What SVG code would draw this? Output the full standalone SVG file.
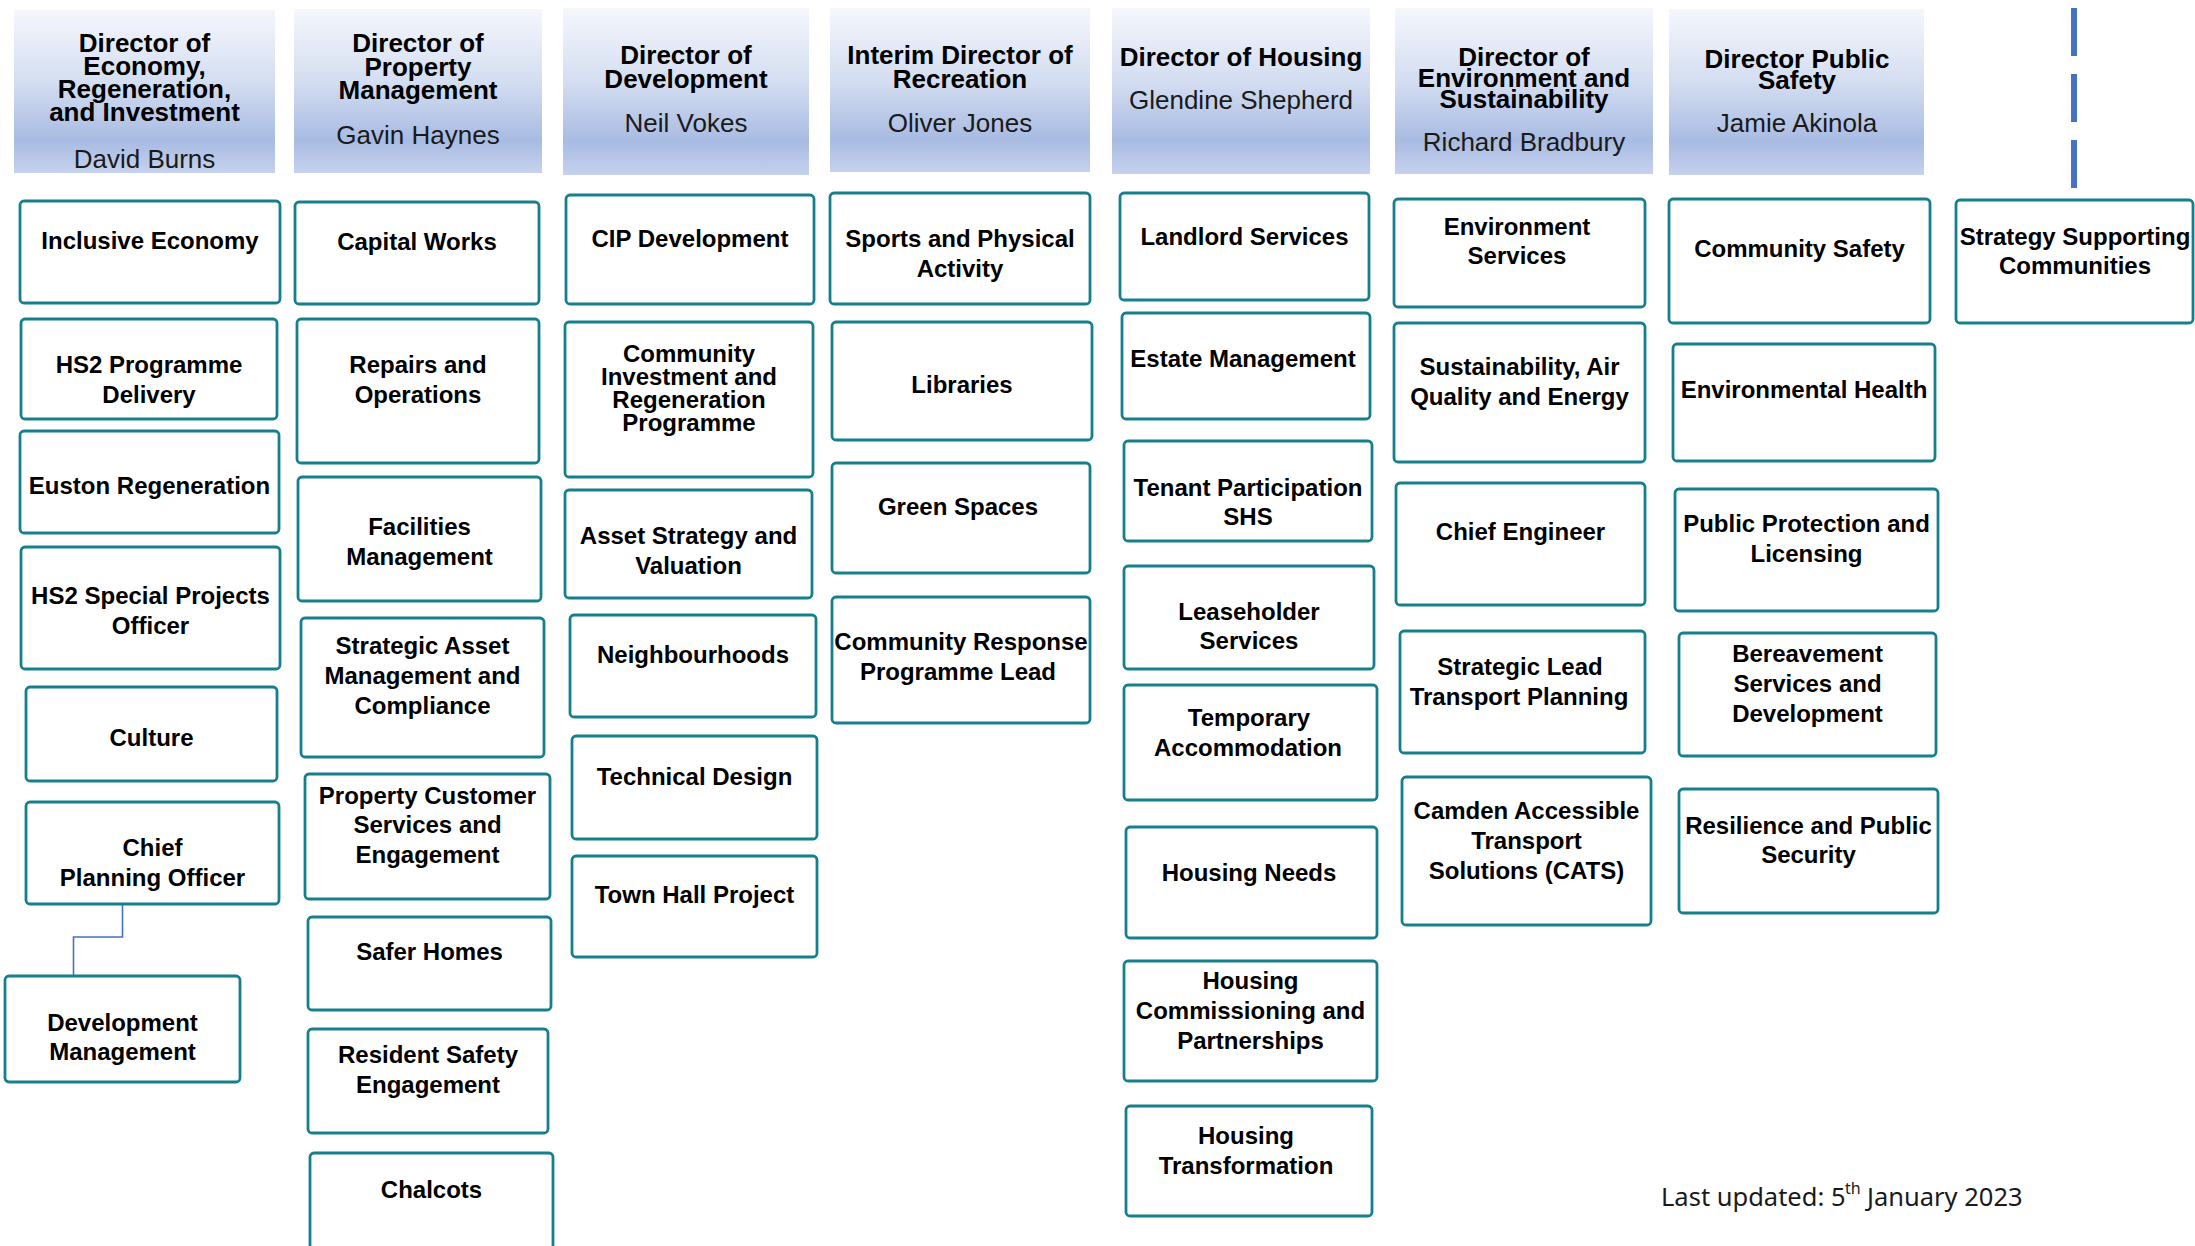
<svg xmlns="http://www.w3.org/2000/svg" width="2195" height="1246" viewBox="0 0 2195 1246">
<defs>
<linearGradient id="hg" x1="0" y1="0" x2="0" y2="1">
<stop offset="0" stop-color="#f5f7fc"/>
<stop offset="0.45" stop-color="#d3ddf1"/>
<stop offset="0.8" stop-color="#a8bbe2"/>
<stop offset="1" stop-color="#c6d2ee"/>
</linearGradient>
<style>
.hd{fill:url(#hg);stroke:none}
.bx{fill:#ffffff;stroke:#167f8c;stroke-width:2.8}
.h{font-family:"Liberation Sans",Arial,sans-serif;font-weight:bold;font-size:26px;fill:#000;text-anchor:middle}
.n{font-family:"Liberation Sans",Arial,sans-serif;font-size:26px;fill:#1a1a1a;text-anchor:middle}
.b{font-family:"Liberation Sans",Arial,sans-serif;font-weight:bold;font-size:24px;fill:#000;text-anchor:middle}
.ft{font-family:"Noto Sans","Open Sans",sans-serif;font-size:25.5px;fill:#1a1a1a}
.cn{fill:none;stroke:#4472c4}
</style>
</defs>
<rect width="2195" height="1246" fill="#ffffff"/>

<g id="connectors">
<path class="cn" d="M122.5 904 V937 H73.5 V976" stroke-width="1.6"/>
<path class="cn" d="M2074 8 V188" stroke-width="6" stroke-dasharray="48 18"/>
</g>

<!-- Headers -->
<g id="hdr-economy"><rect class="hd" x="14" y="10" width="261" height="163"/>
<text class="h" x="144.5" y="52">Director of</text><text class="h" x="144.5" y="75">Economy,</text><text class="h" x="144.5" y="98">Regeneration,</text><text class="h" x="144.5" y="121">and Investment</text>
<text class="n" x="144.5" y="168">David Burns</text></g>
<g id="hdr-property"><rect class="hd" x="294" y="9" width="248" height="164"/>
<text class="h" x="418" y="52">Director of</text><text class="h" x="418" y="76">Property</text><text class="h" x="418" y="99">Management</text>
<text class="n" x="418" y="144">Gavin Haynes</text></g>
<g id="hdr-development"><rect class="hd" x="563" y="8" width="246" height="167"/>
<text class="h" x="686" y="64">Director of</text><text class="h" x="686" y="88">Development</text>
<text class="n" x="686" y="132">Neil Vokes</text></g>
<g id="hdr-recreation"><rect class="hd" x="830" y="8" width="260" height="164"/>
<text class="h" x="960" y="64">Interim Director of</text><text class="h" x="960" y="88">Recreation</text>
<text class="n" x="960" y="132">Oliver Jones</text></g>
<g id="hdr-housing"><rect class="hd" x="1112" y="8" width="258" height="166"/>
<text class="h" x="1241" y="66">Director of Housing</text>
<text class="n" x="1241" y="109">Glendine Shepherd</text></g>
<g id="hdr-environment"><rect class="hd" x="1395" y="8" width="258" height="166"/>
<text class="h" x="1524" y="66">Director of</text><text class="h" x="1524" y="87">Environment and</text><text class="h" x="1524" y="108">Sustainability</text>
<text class="n" x="1524" y="151">Richard Bradbury</text></g>
<g id="hdr-publicsafety"><rect class="hd" x="1669" y="9" width="255" height="166"/>
<text class="h" x="1797" y="68">Director Public</text><text class="h" x="1797" y="89">Safety</text>
<text class="n" x="1797" y="132">Jamie Akinola</text></g>

<!-- Column 1 -->
<g id="inclusive-economy"><rect class="bx" x="20" y="201" width="260" height="102" rx="4"/><text class="b" x="150" y="249">Inclusive Economy</text></g>
<g id="hs2-programme"><rect class="bx" x="21" y="319" width="256" height="100" rx="4"/><text class="b" x="149" y="373">HS2 Programme</text><text class="b" x="149" y="403">Delivery</text></g>
<g id="euston"><rect class="bx" x="20" y="431" width="259" height="102" rx="4"/><text class="b" x="149.5" y="494">Euston Regeneration</text></g>
<g id="hs2-special"><rect class="bx" x="21" y="547" width="259" height="122" rx="4"/><text class="b" x="150.5" y="604">HS2 Special Projects</text><text class="b" x="150.5" y="634">Officer</text></g>
<g id="culture"><rect class="bx" x="26" y="687" width="251" height="94" rx="4"/><text class="b" x="151.5" y="746">Culture</text></g>
<g id="chief-planning"><rect class="bx" x="26" y="802" width="253" height="102" rx="4"/><text class="b" x="152.5" y="856">Chief</text><text class="b" x="152.5" y="886">Planning Officer</text></g>
<g id="dev-management"><rect class="bx" x="5" y="976" width="235" height="106" rx="4"/><text class="b" x="122.5" y="1031">Development</text><text class="b" x="122.5" y="1060">Management</text></g>

<!-- Column 2 -->
<g id="capital-works"><rect class="bx" x="295" y="202" width="244" height="102" rx="4"/><text class="b" x="417" y="250">Capital Works</text></g>
<g id="repairs"><rect class="bx" x="297" y="319" width="242" height="144" rx="4"/><text class="b" x="418" y="373">Repairs and</text><text class="b" x="418" y="403">Operations</text></g>
<g id="facilities"><rect class="bx" x="298" y="477" width="243" height="124" rx="4"/><text class="b" x="419.5" y="535">Facilities</text><text class="b" x="419.5" y="565">Management</text></g>
<g id="strategic-asset"><rect class="bx" x="301" y="618" width="243" height="139" rx="4"/><text class="b" x="422.5" y="654">Strategic Asset</text><text class="b" x="422.5" y="684">Management and</text><text class="b" x="422.5" y="714">Compliance</text></g>
<g id="property-customer"><rect class="bx" x="305" y="774" width="245" height="125" rx="4"/><text class="b" x="427.5" y="804">Property Customer</text><text class="b" x="427.5" y="833">Services and</text><text class="b" x="427.5" y="863">Engagement</text></g>
<g id="safer-homes"><rect class="bx" x="308" y="917" width="243" height="93" rx="4"/><text class="b" x="429.5" y="960">Safer Homes</text></g>
<g id="resident-safety"><rect class="bx" x="308" y="1029" width="240" height="104" rx="4"/><text class="b" x="428" y="1063">Resident Safety</text><text class="b" x="428" y="1093">Engagement</text></g>
<g id="chalcots"><rect class="bx" x="310" y="1153" width="243" height="110" rx="4"/><text class="b" x="431.5" y="1198">Chalcots</text></g>

<!-- Column 3 -->
<g id="cip-development"><rect class="bx" x="566" y="195" width="248" height="109" rx="4"/><text class="b" x="690" y="247">CIP Development</text></g>
<g id="community-investment"><rect class="bx" x="565" y="322" width="248" height="155" rx="4"/><text class="b" x="689" y="362">Community</text><text class="b" x="689" y="385">Investment and</text><text class="b" x="689" y="408">Regeneration</text><text class="b" x="689" y="431">Programme</text></g>
<g id="asset-strategy"><rect class="bx" x="565" y="490" width="247" height="108" rx="4"/><text class="b" x="688.5" y="544">Asset Strategy and</text><text class="b" x="688.5" y="574">Valuation</text></g>
<g id="neighbourhoods"><rect class="bx" x="570" y="615" width="246" height="102" rx="4"/><text class="b" x="693" y="663">Neighbourhoods</text></g>
<g id="technical-design"><rect class="bx" x="572" y="736" width="245" height="103" rx="4"/><text class="b" x="694.5" y="785">Technical Design</text></g>
<g id="town-hall"><rect class="bx" x="572" y="856" width="245" height="101" rx="4"/><text class="b" x="694.5" y="903">Town Hall Project</text></g>

<!-- Column 4 -->
<g id="sports"><rect class="bx" x="830" y="193" width="260" height="111" rx="4"/><text class="b" x="960" y="247">Sports and Physical</text><text class="b" x="960" y="277">Activity</text></g>
<g id="libraries"><rect class="bx" x="832" y="322" width="260" height="118" rx="4"/><text class="b" x="962" y="393">Libraries</text></g>
<g id="green-spaces"><rect class="bx" x="832" y="463" width="258" height="110" rx="4"/><text class="b" x="958" y="515">Green Spaces</text></g>
<g id="community-response"><rect class="bx" x="832" y="597" width="258" height="126" rx="4"/><text class="b" x="961" y="650">Community Response</text><text class="b" x="958" y="680">Programme Lead</text></g>

<!-- Column 5 -->
<g id="landlord"><rect class="bx" x="1120" y="193" width="249" height="107" rx="4"/><text class="b" x="1244.5" y="245">Landlord Services</text></g>
<g id="estate"><rect class="bx" x="1122" y="313" width="248" height="106" rx="4"/><text class="b" x="1243" y="367">Estate Management</text></g>
<g id="tenant"><rect class="bx" x="1124" y="441" width="248" height="100" rx="4"/><text class="b" x="1248" y="496">Tenant Participation</text><text class="b" x="1248" y="525">SHS</text></g>
<g id="leaseholder"><rect class="bx" x="1124" y="566" width="250" height="103" rx="4"/><text class="b" x="1249" y="620">Leaseholder</text><text class="b" x="1249" y="649">Services</text></g>
<g id="temporary"><rect class="bx" x="1124" y="685" width="253" height="115" rx="4"/><text class="b" x="1249" y="726">Temporary</text><text class="b" x="1248" y="756">Accommodation</text></g>
<g id="housing-needs"><rect class="bx" x="1126" y="827" width="251" height="111" rx="4"/><text class="b" x="1249" y="881">Housing Needs</text></g>
<g id="housing-commissioning"><rect class="bx" x="1124" y="961" width="253" height="120" rx="4"/><text class="b" x="1250.5" y="989">Housing</text><text class="b" x="1250.5" y="1019">Commissioning and</text><text class="b" x="1250.5" y="1049">Partnerships</text></g>
<g id="housing-transformation"><rect class="bx" x="1126" y="1106" width="246" height="110" rx="4"/><text class="b" x="1246" y="1144">Housing</text><text class="b" x="1246" y="1174">Transformation</text></g>

<!-- Column 6 -->
<g id="environment-services"><rect class="bx" x="1394" y="199" width="251" height="108" rx="4"/><text class="b" x="1517" y="235">Environment</text><text class="b" x="1517" y="264">Services</text></g>
<g id="sustainability"><rect class="bx" x="1394" y="323" width="251" height="139" rx="4"/><text class="b" x="1519.5" y="375">Sustainability, Air</text><text class="b" x="1519.5" y="405">Quality and Energy</text></g>
<g id="chief-engineer"><rect class="bx" x="1396" y="483" width="249" height="122" rx="4"/><text class="b" x="1520.5" y="540">Chief Engineer</text></g>
<g id="strategic-lead"><rect class="bx" x="1400" y="631" width="245" height="122" rx="4"/><text class="b" x="1520" y="675">Strategic Lead</text><text class="b" x="1519" y="705">Transport Planning</text></g>
<g id="cats"><rect class="bx" x="1402" y="777" width="249" height="148" rx="4"/><text class="b" x="1526.5" y="819">Camden Accessible</text><text class="b" x="1526.5" y="849">Transport</text><text class="b" x="1526.5" y="879">Solutions (CATS)</text></g>

<!-- Column 7 -->
<g id="community-safety"><rect class="bx" x="1669" y="199" width="261" height="124" rx="4"/><text class="b" x="1799.5" y="257">Community Safety</text></g>
<g id="environmental-health"><rect class="bx" x="1673" y="344" width="262" height="117" rx="4"/><text class="b" x="1804" y="398">Environmental Health</text></g>
<g id="public-protection"><rect class="bx" x="1675" y="489" width="263" height="122" rx="4"/><text class="b" x="1806.5" y="532">Public Protection and</text><text class="b" x="1806.5" y="562">Licensing</text></g>
<g id="bereavement"><rect class="bx" x="1679" y="633" width="257" height="123" rx="4"/><text class="b" x="1807.5" y="662">Bereavement</text><text class="b" x="1807.5" y="692">Services and</text><text class="b" x="1807.5" y="722">Development</text></g>
<g id="resilience"><rect class="bx" x="1679" y="789" width="259" height="124" rx="4"/><text class="b" x="1808.5" y="834">Resilience and Public</text><text class="b" x="1808.5" y="863">Security</text></g>

<!-- Column 8 -->
<g id="strategy-supporting"><rect class="bx" x="1956" y="200" width="237" height="123" rx="4"/><text class="b" x="2075" y="245">Strategy Supporting</text><text class="b" x="2075" y="274">Communities</text></g>

<g id="footer"><text class="ft" y="1206"><tspan x="1661">Last updated: 5</tspan><tspan x="1845" dy="-12" font-size="16">th</tspan><tspan x="1867" dy="12">January 2023</tspan></text></g>
</svg>
